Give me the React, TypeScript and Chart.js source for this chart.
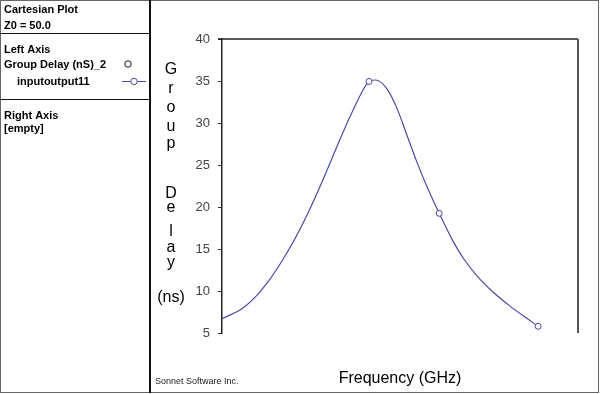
import React, { useEffect, useRef } from "react";
import { Chart, registerables } from "chart.js";

Chart.register(...registerables);

// Frequency (arbitrary GHz units across the plot width) and group delay (ns)
const frequency = [0, 0.56, 0.94, 1.31, 1.69, 2.06, 2.44, 2.79, 3.13, 3.41, 3.69, 3.92, 4.13, 4.31, 4.63, 4.91, 5.19, 5.47, 5.75, 6.1, 6.5, 6.78, 7.15, 7.62, 8.09, 8.56, 8.88];
const groupDelay = [6.7, 7.9, 9.3, 11.2, 13.6, 16.3, 19.5, 22.8, 26.2, 29.0, 31.6, 33.6, 34.95, 35.12, 34.1, 31.8, 28.6, 25.4, 22.5, 19.25, 15.85, 13.9, 11.87, 9.85, 8.2, 6.75, 5.8];
const markerIndices = [12, 19, 26];
const yTicks = [5, 10, 15, 20, 25, 30, 35, 40];
const yTitleParts = ["G", "r", "o", "u", "p", "D", "e", "l", "a", "y", "(ns)"];
const yTitleBaselines = [74, 93, 112, 131, 148, 198, 212, 236, 252, 267, 302];
const panelTexts = ["Cartesian Plot", "Z0 = 50.0", "Left Axis", "Group Delay (nS)_2", "inputoutput11", "Right Axis", "[empty]"];

const LINE = "#4a4aa6";
const FONT = "Arial, 'Liberation Sans', sans-serif";

const decorPlugin = {
  id: "decor",
  beforeDraw(chart: any) {
    const ctx = chart.ctx;
    ctx.save();
    ctx.fillStyle = "#fff";
    ctx.fillRect(0, 0, chart.width, chart.height);
    ctx.restore();
  },
  afterDraw(chart: any) {
    const ctx = chart.ctx;
    const a = chart.chartArea;
    ctx.save();
    // outer frame
    ctx.strokeStyle = "#666";
    ctx.lineWidth = 1;
    ctx.strokeRect(0.5, 0.5, 598, 392);
    // panel separators
    ctx.strokeStyle = "#111";
    ctx.lineWidth = 2;
    ctx.beginPath();
    ctx.moveTo(150, 0);
    ctx.lineTo(150, 393);
    ctx.stroke();
    ctx.lineWidth = 1;
    ctx.beginPath();
    ctx.moveTo(0, 33.5);
    ctx.lineTo(150, 33.5);
    ctx.moveTo(0, 99.5);
    ctx.lineTo(150, 99.5);
    ctx.stroke();

    // panel texts
    ctx.fillStyle = "#000";
    ctx.font = "bold 11px " + FONT;
    ctx.textAlign = "left";
    ctx.textBaseline = "alphabetic";
    ctx.fillText(panelTexts[0], 4, 13);
    ctx.fillText(panelTexts[1], 4, 29);
    ctx.fillText(panelTexts[2], 4, 53);
    ctx.fillText(panelTexts[3], 4, 68);
    ctx.fillText(panelTexts[4], 17, 85);
    ctx.fillText(panelTexts[5], 4, 119);
    ctx.fillText(panelTexts[6], 4, 132);

    // legend symbols
    ctx.strokeStyle = "#222";
    ctx.fillStyle = "#fff";
    ctx.beginPath();
    ctx.arc(128, 64, 3.2, 0, Math.PI * 2);
    ctx.fill();
    ctx.stroke();
    ctx.strokeStyle = LINE;
    ctx.beginPath();
    ctx.moveTo(122, 81.5);
    ctx.lineTo(146, 81.5);
    ctx.stroke();
    ctx.beginPath();
    ctx.arc(134, 81.5, 3.2, 0, Math.PI * 2);
    ctx.fill();
    ctx.stroke();

    // top and right frame of plot
    ctx.strokeStyle = "#222";
    ctx.lineWidth = 1.5;
    ctx.beginPath();
    ctx.moveTo(a.left - 4, a.top);
    ctx.lineTo(a.right, a.top);
    ctx.stroke();
    ctx.strokeStyle = "#555";
    ctx.lineWidth = 2;
    ctx.beginPath();
    ctx.moveTo(a.right, a.top);
    ctx.lineTo(a.right, a.bottom);
    ctx.stroke();

    // y axis title (stacked letters)
    ctx.fillStyle = "#000";
    ctx.font = "16px " + FONT;
    ctx.textAlign = "center";
    yTitleParts.forEach((t, i) => ctx.fillText(t, 171, yTitleBaselines[i]));

    // x axis title
    ctx.fillText("Frequency (GHz)", (a.left + a.right) / 2, 383);

    // credit
    ctx.font = "9px " + FONT;
    ctx.textAlign = "left";
    ctx.fillStyle = "#222";
    ctx.fillText("Sonnet Software Inc.", 155, 384);
    ctx.restore();
  },
};

export default function App() {
  const ref = useRef<HTMLCanvasElement | null>(null);
  useEffect(() => {
    if (!ref.current) return;
    const chart = new Chart(ref.current, {
      type: "line",
      data: {
        datasets: [
          {
            label: "inputoutput11",
            data: frequency.map((f, i) => ({ x: f, y: groupDelay[i] })),
            borderColor: LINE,
            borderWidth: 1.2,
            backgroundColor: "#fff",
            fill: false,
            cubicInterpolationMode: "monotone",
            pointRadius: frequency.map((_, i) => (markerIndices.includes(i) ? 3 : 0)),
            pointBorderColor: LINE,
            pointBackgroundColor: "#fff",
            pointBorderWidth: 1,
          },
        ],
      },
      options: {
        responsive: false,
        animation: false,
        devicePixelRatio: 1,
        layout: { padding: { left: 0, top: 39, right: 22, bottom: 61 } },
        plugins: { legend: { display: false }, tooltip: { enabled: false } },
        scales: {
          x: { type: "linear", min: 0, max: 10, display: false },
          y: {
            type: "linear",
            min: 5,
            max: 40,
            afterFit: (s: any) => {
              s.width = 222;
            },
            afterBuildTicks: (s: any) => {
              s.ticks = yTicks.map((v) => ({ value: v }));
            },
            ticks: { color: "#444", font: { family: FONT, size: 13 }, padding: 8 },
            grid: { display: true, drawOnChartArea: false, drawTicks: true, tickLength: 4, color: "#333" },
            border: { display: true, color: "#222", width: 1.5 },
          },
        },
      },
      plugins: [decorPlugin],
    });
    return () => chart.destroy();
  }, []);
  return (
    <div style={{ position: "absolute", left: 0, top: 0, width: 600, height: 394, background: "#fff" }}>
      <canvas ref={ref} width={600} height={394} />
    </div>
  );
}
